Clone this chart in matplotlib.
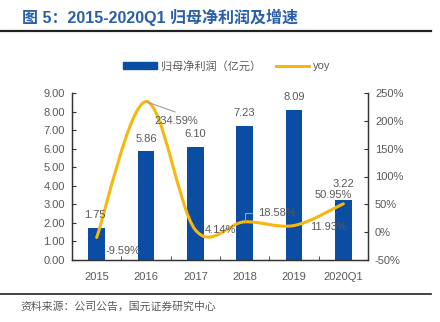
import matplotlib
matplotlib.use("Agg")
import matplotlib.pyplot as plt
from matplotlib.path import Path
from matplotlib.patches import PathPatch
from matplotlib.lines import Line2D
from matplotlib.patches import Patch

plt.rcParams['font.family'] = ['Liberation Sans', 'Noto Sans CJK SC', 'DejaVu Sans']

# ---- data ----
years = ["2015", "2016", "2017", "2018", "2019", "2020Q1"]
profit = [1.75, 5.86, 6.10, 7.23, 8.09, 3.22]          # 归母净利润（亿元）
yoy = [-9.59, 234.59, 4.14, 18.58, 11.93, 50.95]       # %
profit_labels = ["1.75", "5.86", "6.10", "7.23", "8.09", "3.22"]
yoy_labels = ["-9.59%", "234.59%", "4.14%", "18.58%", "11.93%", "50.95%"]

BLUE = "#0B4DA2"
ORANGE = "#F8B70F"
GREY = "#595959"

fig = plt.figure(figsize=(4.4, 3.22), dpi=100)
ax = fig.add_axes([72/440, 1-260/322, (368-72)/440, (260-93)/322])
ax2 = ax.twinx()

x = list(range(len(years)))
ax.bar(x, profit, width=0.34, color=BLUE, zorder=2)
ax.set_xlim(-0.5, len(years)-0.5)
ax.set_ylim(0, 9)
ax.set_yticks([i for i in range(10)])
ax.set_yticklabels([f"{i:.2f}" for i in range(10)])
ax.set_xticks(x)
ax.set_xticklabels(years)
ax.set_xticks([i + 0.5 for i in x[:-1]], minor=True)
ax.tick_params(axis='x', which='major', length=0, pad=9, labelsize=8, labelcolor=GREY)
ax.tick_params(axis='x', which='minor', length=3, direction='in', color="#333333")
ax.tick_params(axis='y', length=3, direction='in', labelsize=8, labelcolor=GREY, pad=5, color="#333333")

ax2.set_ylim(-50, 250)
ax2.set_yticks([-50, 0, 50, 100, 150, 200, 250])
ax2.set_yticklabels(["-50%", "0%", "50%", "100%", "150%", "200%", "250%"])
ax2.tick_params(axis='y', length=3, direction='in', labelsize=8, labelcolor=GREY, pad=5, color="#333333")

for a in (ax, ax2):
    a.spines['top'].set_visible(False)
    for s in ('left', 'right', 'bottom'):
        a.spines[s].set_color("#333333")
        a.spines[s].set_linewidth(0.9)

# smoothed yoy line (Catmull-Rom style cubic Beziers through the data points)
pts = list(zip(x, yoy))
verts = [pts[0]]
codes = [Path.MOVETO]
n = len(pts)
for i in range(n - 1):
    p0 = pts[max(i - 1, 0)]
    p1 = pts[i]
    p2 = pts[i + 1]
    p3 = pts[min(i + 2, n - 1)]
    c1 = (p1[0] + (p2[0] - p0[0]) / 6, p1[1] + (p2[1] - p0[1]) / 6)
    c2 = (p2[0] - (p3[0] - p1[0]) / 6, p2[1] - (p3[1] - p1[1]) / 6)
    verts += [c1, c2, p2]
    codes += [Path.CURVE4] * 3
ax2.add_patch(PathPatch(Path(verts, codes), fill=False, edgecolor=ORANGE, lw=2.2,
                        capstyle='round', zorder=3))

# bar labels (drawn on ax2 so they sit above the line)
bar_off = [9, 9, 9, 9, 9, 12]
for xi, v, lab, off in zip(x, profit, profit_labels, bar_off):
    ax2.annotate(lab, (xi, v * 300 / 9 - 50), xytext=(-1 if xi == 0 else 0, off),
                 textcoords="offset points", ha="center", va="center",
                 fontsize=8, color=GREY, zorder=5)

# yoy labels (offsets in points)
yoy_off = [(19, -10), (22, -14), (18, 0), (23, 6), (25, -1), (-7, 6)]
for xi, v, lab, off in zip(x, yoy, yoy_labels, yoy_off):
    ax2.annotate(lab, (xi, v), xytext=off, textcoords="offset points",
                 ha="center", va="center", fontsize=8, color=GREY, zorder=5)
# leader lines
ax2.annotate("", (x[1], yoy[1]), xytext=(21, -7.5), textcoords="offset points",
             arrowprops=dict(arrowstyle="-", color="#A0A0A0", lw=0.8, shrinkA=0, shrinkB=0))
ax2.annotate("", (x[3], yoy[3]), xytext=(5, 6.5), textcoords="offset points",
             arrowprops=dict(arrowstyle="-", color="#A0A0A0", lw=0.8, shrinkA=0, shrinkB=0,
                             connectionstyle="angle,angleA=0,angleB=90,rad=0"))

# legend
handles = [Patch(color=BLUE), Line2D([0], [0], color=ORANGE, lw=2.2)]
fig.legend(handles, ["归母净利润（亿元）", "yoy"], loc="center", ncol=2,
           bbox_to_anchor=(227/440, 1-66/322), frameon=False, fontsize=8,
           labelcolor=GREY, handlelength=3.0, handleheight=0.6, columnspacing=1.3,
           handletextpad=0.4)

# title, rules, source
fig.text(22/440, 1-17/322, "图 5：2015-2020Q1 归母净利润及增速", fontsize=11.5,
         fontweight="bold", color="#2B5FA8", va="center", ha="left")
fig.add_artist(Line2D([0, 431/440], [1-31/322, 1-31/322], color="#222222", lw=1.6))
fig.add_artist(Line2D([0, 431/440], [1-294/322, 1-294/322], color="#222222", lw=1.2))
fig.text(20/440, 1-307/322, "资料来源：公司公告，国元证券研究中心", fontsize=7.8,
         color=GREY, va="center", ha="left")

fig.savefig("out.png", dpi=100)
